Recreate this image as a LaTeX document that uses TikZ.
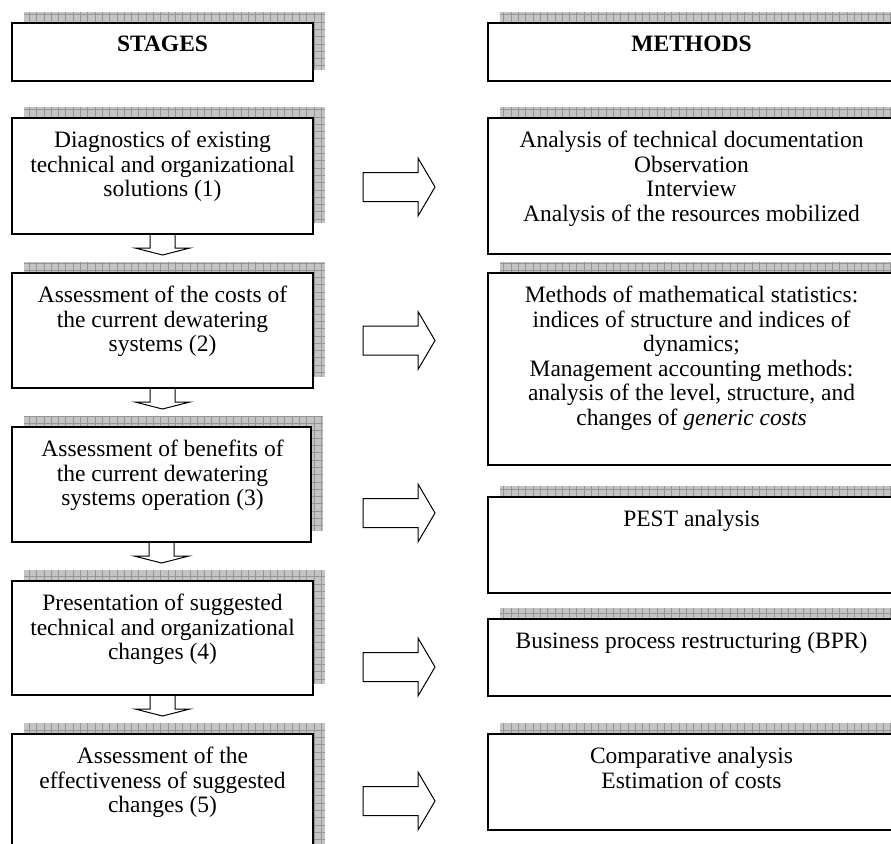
\documentclass[tikz,border=0pt]{standalone}
\usepackage{fontspec}
\setmainfont{Liberation Serif}
\usetikzlibrary{calc,backgrounds}
\definecolor{shadowfill}{RGB}{196,196,196}
\definecolor{shadowline}{RGB}{150,150,150}
\tikzset{
  box/.style={draw=black, line width=1.7pt, fill=white, anchor=north west, inner sep=0pt, outer sep=0pt},
  txt/.style={anchor=north, align=center, inner sep=0pt, font=\fontsize{23.5}{24.5}\selectfont},
  blockarrow/.style={draw=black, line width=1pt, line join=miter},
  shadowgrid/.style={draw=shadowline, line width=0.5pt},
}
\begin{document}
\begin{tikzpicture}[x=1pt,y=-1pt]
\useasboundingbox (0,0) rectangle (891,843);
\clip (0,0) rectangle (891,843);
% left column
\node[box, minimum width=301pt, minimum height=58pt]  (st) at (12,23)  {};
\node[box, minimum width=301pt, minimum height=116pt] (s1) at (12,118) {};
\node[box, minimum width=301pt, minimum height=115pt] (s2) at (12,273) {};
\node[box, minimum width=299pt, minimum height=115pt] (s3) at (12,427) {};
\node[box, minimum width=301pt, minimum height=114pt] (s4) at (12,581) {};
\node[box, minimum width=301pt, minimum height=130pt] (s5) at (12,734) {};
% right column
\node[box, minimum width=407pt, minimum height=58pt]  (mt) at (488,23)  {};
\node[box, minimum width=407pt, minimum height=136pt] (m1) at (488,118) {};
\node[box, minimum width=407pt, minimum height=192pt] (m2) at (488,273) {};
\node[box, minimum width=407pt, minimum height=96pt]  (m3) at (488,497) {};
\node[box, minimum width=407pt, minimum height=77pt]  (m4) at (488,619) {};
\node[box, minimum width=407pt, minimum height=96pt]  (m5) at (488,734) {};
% shadows
\begin{scope}[on background layer]
\clip (0,0) rectangle (891,843);
\foreach \n in {st,s1,s2,s3,s4,s5,mt,m1,m2,m3,m4,m5}{
  \path ([shift={(12,-11)}]\n.south west) coordinate (sa)
        ([shift={(12,-11)}]\n.north east) coordinate (sb);
  \fill[shadowfill] (sa) rectangle (sb);
  \begin{scope}
    \clip (sa) rectangle (sb);
    \draw[shadowgrid, step=7.3pt] (sa) grid (sb);
  \end{scope}
}
\end{scope}
% texts
\node[txt] (tst) at ($(st.north)+(0,13)$) {\textbf{STAGES}};
\node[txt] (ts1) at ($(s1.north)+(0,13)$) {Diagnostics of existing\\technical and organizational\\solutions (1)};
\node[txt] (ts2) at ($(s2.north)+(0,13)$) {Assessment of the costs of\\the current dewatering\\systems (2)};
\node[txt] (ts3) at ($(s3.north)+(1,13)$) {Assessment of benefits of\\the current dewatering\\systems operation (3)};
\node[txt] (ts4) at ($(s4.north)+(0,13)$) {Presentation of suggested\\technical and organizational\\changes (4)};
\node[txt] (ts5) at ($(s5.north)+(0,13)$) {Assessment of the\\effectiveness of suggested\\changes (5)};
\node[txt] (tmt) at ($(mt.north)+(0,13)$) {\textbf{METHODS}};
\node[txt] (tm1) at ($(m1.north)+(0,13)$) {Analysis of technical documentation\\Observation\\Interview\\Analysis of the resources mobilized};
\node[txt] (tm2) at ($(m2.north)+(0,13)$) {Methods of mathematical statistics:\\indices of structure and indices of\\dynamics;\\Management accounting methods:\\analysis of the level, structure, and\\changes of \textit{generic costs}};
\node[txt] (tm3) at ($(m3.north)+(0,13)$) {PEST analysis};
\node[txt] (tm4) at ($(m4.north)+(0,13)$) {Business process restructuring (BPR)};
\node[txt] (tm5) at ($(m5.north)+(0,13)$) {Comparative analysis\\Estimation of costs};
% down arrows
\foreach \n in {s1,s2,s3,s4}{
  \draw[blockarrow] ($(\n.south)+(-12.5,0)$) -- ++(0,14) -- ++(-15,0)
     -- ($(\n.south)+(0,21)$) -- ($(\n.south)+(27.5,14)$) -- ++(-15,0) -- ++(0,-14);
}
% right arrows
\foreach \y in {187,340.5,513,667,801}{
  \draw[blockarrow, fill=white] (363,\y-14.5) -- (418,\y-14.5) -- (418,\y-29) -- (435,\y)
     -- (418,\y+29) -- (418,\y+14.5) -- (363,\y+14.5) -- cycle;
}
\end{tikzpicture}
\end{document}
